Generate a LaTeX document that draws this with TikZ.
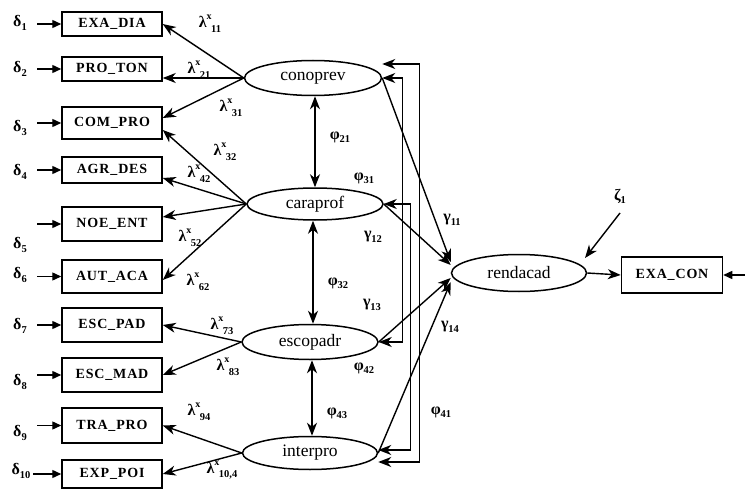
\documentclass[tikz,border=0pt]{standalone}
\usepackage{fontspec}
\setmainfont{Liberation Serif}
\newfontfamily\boxfont[LetterSpace=6]{Liberation Serif}
\usetikzlibrary{shapes.geometric,arrows.meta}

% loading with superscript x and a subscript
\newcommand{\lamx}[1]{λ\raisebox{0.5em}{\fontsize{10}{10}\selectfont x}\kern-0.5pt\raisebox{-0.3em}{\fontsize{10.5}{10}\selectfont #1}}
% greek letter with a subscript
\newcommand{\gsub}[2]{#1\raisebox{-0.2em}{\fontsize{10.5}{10}\selectfont #2}}

\tikzset{
  obs/.style={draw, line width=1.5pt, rectangle, minimum width=100pt, inner sep=0pt,
              font=\boxfont\fontsize{14}{14}\selectfont\bfseries},
  lat/.style={draw, line width=1.5pt, ellipse, inner sep=0pt,
              font=\fontsize{17.5}{18}\selectfont},
  lbl/.style={inner sep=0pt, font=\fontsize{16}{16}\selectfont\bfseries},
  load/.style={-{Stealth[length=13pt,width=10pt,inset=4pt]}, line width=1.4pt},
  err/.style={-{Triangle[length=9pt,width=8pt]}, line width=1.4pt},
  cov/.style={{Stealth[length=13pt,width=10pt,inset=4pt]}-{Stealth[length=13pt,width=10pt,inset=4pt]}, line width=1.4pt},
}

\begin{document}
\begin{tikzpicture}[x=1pt,y=-1pt]
\useasboundingbox (0,0) rectangle (745,495);

% observed indicators
\node[obs, minimum height=24pt] (exadia) at (112,24)    {EXA\_DIA};
\node[obs, minimum height=24pt] (proton) at (112,69)    {PRO\_TON};
\node[obs, minimum height=32pt] (compro) at (112,123)   {COM\_PRO};
\node[obs, minimum height=26pt] (agrdes) at (112,170)   {AGR\_DES};
\node[obs, minimum height=34pt] (noeent) at (112,224)   {NOE\_ENT};
\node[obs, minimum height=33pt] (autaca) at (112,276.5) {AUT\_ACA};
\node[obs, minimum height=34pt] (escpad) at (112,325)   {ESC\_PAD};
\node[obs, minimum height=34pt] (escmad) at (112,375)   {ESC\_MAD};
\node[obs, minimum height=35pt] (trapro) at (112,425.5) {TRA\_PRO};
\node[obs, minimum height=28pt] (exppoi) at (112,474)   {EXP\_POI};
\node[obs, minimum width=101pt, minimum height=36pt] (exacon) at (672,275) {EXA\_CON};

% latent variables
\node[lat, minimum width=137pt, minimum height=35pt] (conoprev) at (313,78)  {conoprev};
\node[lat, minimum width=136pt, minimum height=32pt] (caraprof) at (315,204) {caraprof};
\node[lat, minimum width=136pt, minimum height=35pt] (escopadr) at (310,342) {escopadr};
\node[lat, minimum width=135pt, minimum height=33pt] (interpro) at (310,453) {interpro};
\node[lat, minimum width=135pt, minimum height=37pt] (rendacad) at (519,273) {rendacad};

% measurement errors
\node[lbl] (d1)  at (20,23)  {\gsub{δ}{1}};
\node[lbl] (d2)  at (20,69)  {\gsub{δ}{2}};
\node[lbl] (d3)  at (20,128) {\gsub{δ}{3}};
\node[lbl] (d4)  at (20,172) {\gsub{δ}{4}};
\node[lbl] (d5)  at (20,245) {\gsub{δ}{5}};
\node[lbl] (d6)  at (20,275) {\gsub{δ}{6}};
\node[lbl] (d7)  at (20,326) {\gsub{δ}{7}};
\node[lbl] (d8)  at (20,382) {\gsub{δ}{8}};
\node[lbl] (d9)  at (20,433) {\gsub{δ}{9}};
\node[lbl] (d10) at (21,471) {\gsub{δ}{10}};

\coordinate (s1)  at (37,24);
\coordinate (s2)  at (37,69);
\coordinate (s3)  at (37,123);
\coordinate (s4)  at (37,170);
\coordinate (s5)  at (37,224);
\coordinate (s6)  at (37,276.5);
\coordinate (s7)  at (37,325);
\coordinate (s8)  at (37,375);
\coordinate (s9)  at (37,425.5);
\coordinate (s10) at (33,474);
\draw[err] (s1)  -- (exadia.west);
\draw[err] (s2)  -- (proton.west);
\draw[err] (s3)  -- (compro.west);
\draw[err] (s4)  -- (agrdes.west);
\draw[err] (s5)  -- (noeent.west);
\draw[err] (s6)  -- (autaca.west);
\draw[err] (s7)  -- (escpad.west);
\draw[err] (s8)  -- (escmad.west);
\draw[err] (s9)  -- (trapro.west);
\draw[err] (s10) -- (exppoi.west);

% factor loadings
\draw[load] (conoprev.west) -- (exadia.east);
\draw[load] (conoprev.west) -- ([yshift=-9pt]proton.east);
\draw[load] (conoprev.west) -- ([yshift=5pt]compro.east);
\draw[load] (caraprof.west) -- ([yshift=-7pt]compro.east);
\draw[load] (caraprof.west) -- ([yshift=-8pt]agrdes.east);
\draw[load] (caraprof.west) -- ([yshift=7pt]noeent.east);
\draw[load] (caraprof.west) -- ([yshift=-3.5pt]autaca.east);
\draw[load] (escopadr.west) -- (escpad.east);
\draw[load] (escopadr.west) -- (escmad.east);
\draw[load] (interpro.west) -- (trapro.east);
\draw[load] (interpro.west) -- (exppoi.east);

\node[lbl] at (210,24)  {\lamx{11}};
\node[lbl] at (199,70)  {\lamx{21}};
\node[lbl] at (231,108) {\lamx{31}};
\node[lbl] at (225,152) {\lamx{32}};
\node[lbl] at (199,174) {\lamx{42}};
\node[lbl] at (190,238) {\lamx{52}};
\node[lbl] at (198,282) {\lamx{62}};
\node[lbl] at (222,326) {\lamx{73}};
\node[lbl] at (228,367) {\lamx{83}};
\node[lbl] at (199,412) {\lamx{94}};
\node[lbl] at (222,470) {\lamx{10,4}};

% covariances between exogenous factors
\draw[cov] (caraprof.north |- conoprev.south) -- (caraprof.north);
\draw[cov] ([xshift=-2pt]caraprof.south) -- ([xshift=-2pt]caraprof.south |- escopadr.north);
\draw[cov] ([xshift=2pt]escopadr.south) -- ([xshift=2pt]escopadr.south |- interpro.north);
\draw[cov] (conoprev.east) -- ++(20.5,0) |- (escopadr.east);
\draw[cov] ([yshift=14pt]conoprev.east) -- ++(37,0) |- ([yshift=-9pt]interpro.east);
\draw[cov] (caraprof.east) -- ++(27,0) |- ([yshift=3pt]interpro.east);

% structural paths
\draw[load] (conoprev.east) -- ([yshift=11pt]rendacad.west);
\draw[load] (caraprof.east) -- ([yshift=8pt]rendacad.west);
\draw[load] (escopadr.east) -- ([yshift=-5pt]rendacad.west);
\draw[load] (interpro.east) -- ([yshift=-9pt]rendacad.west);
\draw[load] (rendacad.east) -- (exacon.west);

\coordinate (zt) at (620,213);
\draw[load] (zt) -- ([xshift=66pt,yshift=15pt]rendacad.center);
\node[lbl] (zeta) at (620,196) {\gsub{ζ}{1}};
\coordinate (ein) at (745,275);
\draw[err] (ein) -- (exacon.east);

\node[lbl] at (340,137) {\gsub{φ}{21}};
\node[lbl] at (364,178) {\gsub{φ}{31}};
\node[lbl] at (452,220) {\gsub{γ}{11}};
\node[lbl] at (373,237) {\gsub{γ}{12}};
\node[lbl] at (338,283) {\gsub{φ}{32}};
\node[lbl] at (372,305) {\gsub{γ}{13}};
\node[lbl] at (450,327) {\gsub{γ}{14}};
\node[lbl] at (364,368) {\gsub{φ}{42}};
\node[lbl] at (337,413) {\gsub{φ}{43}};
\node[lbl] at (441,412) {\gsub{φ}{41}};
\end{tikzpicture}
\end{document}
